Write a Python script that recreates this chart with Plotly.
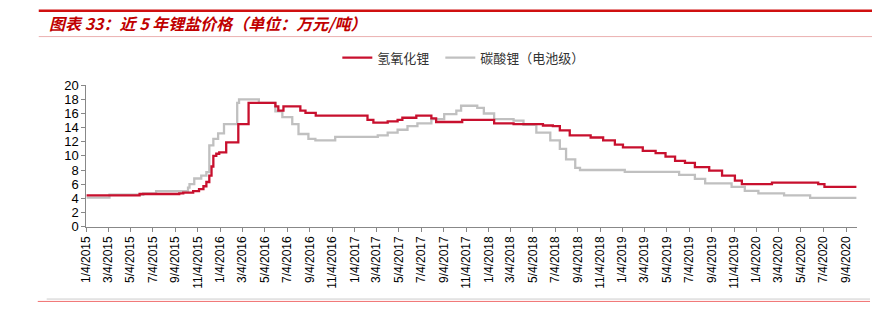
import plotly.graph_objects as go

# 氢氧化锂 price change points (万元/吨), held until the next date
lioh_dates = [
    "2015-01-04", "2015-05-29", "2015-09-14", "2015-09-25", "2015-10-22", "2015-11-07",
    "2015-11-19", "2015-11-27", "2015-12-05", "2015-12-11", "2015-12-16", "2015-12-24",
    "2016-01-01", "2016-01-20", "2016-02-22", "2016-03-21", "2016-06-02", "2016-06-10",
    "2016-06-24", "2016-08-09", "2016-08-23", "2016-09-20", "2017-02-08", "2017-02-24",
    "2017-04-04", "2017-05-01", "2017-05-14", "2017-06-21", "2017-08-01", "2017-08-14",
    "2017-10-24", "2018-01-19", "2018-03-13", "2018-06-01", "2018-06-28", "2018-07-17",
    "2018-08-13", "2018-10-09", "2018-11-12", "2018-12-14", "2019-01-05", "2019-02-28",
    "2019-04-04", "2019-05-01", "2019-05-27", "2019-06-23", "2019-07-20", "2019-08-28",
    "2019-10-02", "2019-11-06", "2019-11-25", "2020-02-15", "2020-06-20", "2020-07-07",
    "2020-10-02",
]
lioh_values = [
    4.4, 4.6, 4.7, 4.8, 5.0, 5.3,
    5.7, 6.3, 7.2, 8.5, 10.0, 10.3,
    10.5, 11.9, 14.5, 17.5, 17.0, 16.4,
    17.0, 16.4, 16.1, 15.7, 15.1, 14.7,
    14.9, 15.1, 15.4, 15.7, 15.3, 14.8,
    15.1, 14.6, 14.5, 14.3, 14.2, 13.6,
    12.9, 12.6, 12.2, 11.6, 11.2, 10.7,
    10.4, 9.9, 9.3, 9.0, 8.4, 7.9,
    7.2, 6.5, 6.0, 6.2, 6.0, 5.6,
    5.6,
]

# 碳酸锂（电池级）price change points (万元/吨)
li2co3_dates = [
    "2015-01-04", "2015-03-08", "2015-06-08", "2015-07-13", "2015-10-08", "2015-10-12",
    "2015-10-25", "2015-11-13", "2015-11-27", "2015-12-05", "2015-12-16", "2015-12-29",
    "2016-01-14", "2016-02-19", "2016-02-24", "2016-04-18", "2016-06-02", "2016-06-21",
    "2016-07-18", "2016-08-04", "2016-08-31", "2016-09-19", "2016-11-12", "2017-03-08",
    "2017-04-04", "2017-05-01", "2017-05-28", "2017-06-24", "2017-08-01", "2017-09-05",
    "2017-10-08", "2017-10-21", "2017-12-04", "2017-12-22", "2018-01-19", "2018-03-13",
    "2018-04-09", "2018-05-14", "2018-06-21", "2018-07-17", "2018-08-03", "2018-08-28",
    "2018-09-10", "2019-01-10", "2019-06-07", "2019-07-20", "2019-08-17", "2019-10-28",
    "2019-12-03", "2020-01-09", "2020-03-19", "2020-05-29", "2020-10-02",
]
li2co3_values = [
    4.1, 4.5, 4.7, 5.0, 5.5, 6.0,
    6.8, 7.2, 7.7, 11.5, 12.4, 13.2,
    14.5, 17.5, 18.0, 17.5, 16.3, 15.5,
    14.5, 13.1, 12.4, 12.2, 12.7, 12.9,
    13.3, 13.7, 14.2, 14.6, 15.2, 15.9,
    16.4, 17.1, 16.8, 16.0, 15.2, 15.0,
    14.4, 13.3, 12.2, 11.0, 9.5, 8.3,
    8.0, 7.75, 7.3, 6.75, 6.1, 5.6,
    5.05, 4.7, 4.4, 4.05, 4.05,
]

# x-axis ticks every two months on the 4th
tick_dates = [f"{y}-{m:02d}-04" for y in range(2015, 2021) for m in (1, 3, 5, 7, 9, 11)
              if f"{y}-{m:02d}" <= "2020-09"]
tick_labels = [f"{int(d[5:7])}/4/{d[:4]}" for d in tick_dates]

RED = "#C8102E"
GRAY = "#C0C0C0"
W, H = 872, 329

fig = go.Figure()
# gray first so the red line sits on top; legend order reversed to list red first
fig.add_trace(go.Scatter(x=li2co3_dates, y=li2co3_values, name="碳酸锂（电池级）", mode="lines",
                         legendwidth=130,
                         line=dict(color=GRAY, width=2.3, shape="hv")))
fig.add_trace(go.Scatter(x=lioh_dates, y=lioh_values, name="氢氧化锂", mode="lines",
                         legendwidth=58,
                         line=dict(color=RED, width=2.3, shape="hv")))


def px(x):
    return x / W


def py(y):
    return 1 - y / H


shapes = [
    dict(type="line", xref="paper", yref="paper", x0=px(32), x1=1, y0=py(4), y1=py(4),
         line=dict(color="#D01010", width=2.5)),
    dict(type="line", xref="paper", yref="paper", x0=px(32), x1=1, y0=py(31), y1=py(31),
         line=dict(color="#EBB0B0", width=1)),
    dict(type="line", xref="paper", yref="paper", x0=px(40), x1=px(870), y0=py(306), y1=py(306),
         line=dict(color="#CCCCCC", width=1)),
    dict(type="line", xref="paper", yref="paper", x0=px(31), x1=px(870), y0=py(308.5), y1=py(308.5),
         line=dict(color="#F07070", width=1)),
]

fig.update_layout(
    width=W, height=H,
    margin=dict(l=0, r=0, t=0, b=0),
    paper_bgcolor="white", plot_bgcolor="white",
    font=dict(family="Arial, 'Liberation Sans', 'Noto Sans CJK SC'", color="#000000"),
    shapes=shapes,
    showlegend=True,
    legend=dict(orientation="h", x=px(333), y=py(53), xanchor="left", yanchor="middle",
                traceorder="reversed",
                font=dict(family="'Noto Sans CJK SC'", size=13, color="#333333"),
                bgcolor="rgba(0,0,0,0)", itemwidth=30),
    annotations=[
        dict(text="<b><i>图表 33：近 5 年锂盐价格（单位：万元/吨）</i></b>", xref="paper", yref="paper",
             x=px(40), y=py(17), xanchor="left", yanchor="middle", showarrow=False,
             font=dict(family="'Noto Sans CJK SC'", size=16, color="#C00000")),
    ],
    xaxis=dict(
        domain=[px(80), px(857)],
        type="date", range=["2015-01-04", "2020-10-04"],
        tickmode="array", tickvals=tick_dates, ticktext=tick_labels,
        tickangle=-90, tickfont=dict(size=12, family="Arial, 'Liberation Sans'"),
        showline=True, linecolor="#888888", linewidth=1,
        ticks="outside", ticklen=4, tickcolor="#888888",
        showgrid=False, zeroline=False,
    ),
    yaxis=dict(
        domain=[1 - 230 / H, 1 - 82 / H],
        range=[0, 20], tickmode="array", tickvals=list(range(0, 21, 2)),
        tickfont=dict(size=13, family="Arial, 'Liberation Sans'"),
        showline=True, linecolor="#888888", linewidth=1,
        ticks="outside", ticklen=4, tickcolor="#888888",
        showgrid=False, zeroline=False,
    ),
)

# drop the page's default body margin so the figure fills the window
fig.write_html("out.html", post_script="document.body.style.margin = '0';")
